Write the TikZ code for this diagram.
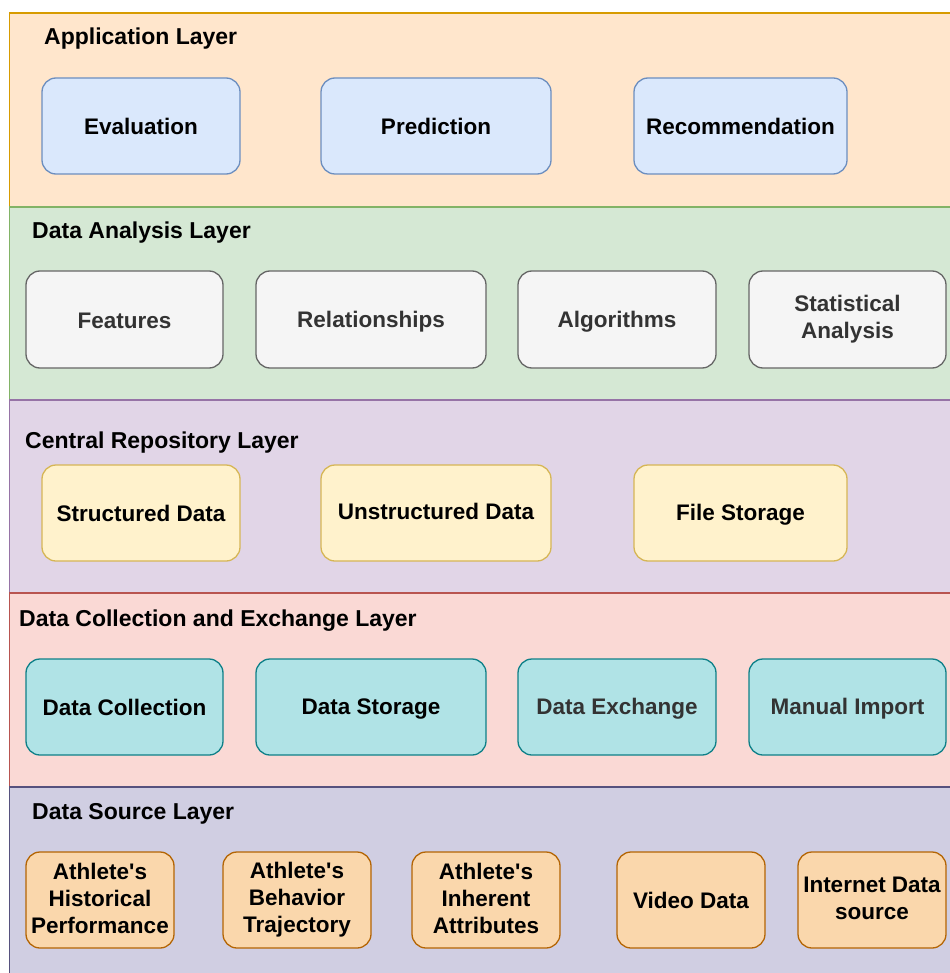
\documentclass[tikz,border=0pt]{standalone}
\usepackage{fontspec}
\setmainfont{Liberation Sans}
\usetikzlibrary{positioning}

\definecolor{appfill}{HTML}{FFE6CC}
\definecolor{appline}{HTML}{D79B00}
\definecolor{anafill}{HTML}{D5E8D4}
\definecolor{analine}{HTML}{82B366}
\definecolor{repfill}{HTML}{E1D5E7}
\definecolor{repline}{HTML}{9673A6}
\definecolor{colfill}{HTML}{FAD9D5}
\definecolor{colline}{HTML}{B85450}
\definecolor{srcfill}{HTML}{D0CEE2}
\definecolor{srcline}{HTML}{56517E}
\definecolor{bluefill}{HTML}{DAE8FC}
\definecolor{blueline}{HTML}{6C8EBF}
\definecolor{grayfill}{HTML}{F5F5F5}
\definecolor{grayline}{HTML}{666666}
\definecolor{graytext}{HTML}{333333}
\definecolor{yellowfill}{HTML}{FFF2CC}
\definecolor{yellowline}{HTML}{D6B656}
\definecolor{tealfill}{HTML}{B0E3E6}
\definecolor{tealline}{HTML}{0E8088}
\definecolor{orangefill}{HTML}{FAD7AC}
\definecolor{orangeline}{HTML}{B46504}

% keeps every line of a box on the same baseline grid
\newcommand\itemstrut{\rule[-3.5pt]{0pt}{24pt}}

\begin{document}
\begin{tikzpicture}[x=1pt,y=-1pt,
    layerbox/.style={rectangle,draw,line width=1.2pt,outer sep=0pt,inner sep=0pt,
                     minimum width=952pt,anchor=north west},
    layer title/.style={anchor=base west,inner sep=0pt,
                        font=\bfseries\fontsize{23}{28}\selectfont},
    item/.style={rectangle,rounded corners=14pt,draw,line width=1.3pt,outer sep=0pt,
                 inner sep=0pt,minimum height=96pt,align=center,
                 font=\bfseries\fontsize{22.5}{27}\selectfont,
                 execute at begin node=\itemstrut,execute at end node=\itemstrut},
    app item/.style={item,fill=bluefill,draw=blueline},
    ana item/.style={item,fill=grayfill,draw=grayline,text=graytext,minimum height=97pt},
    rep item/.style={item,fill=yellowfill,draw=yellowline},
    col item/.style={item,fill=tealfill,draw=tealline},
    src item/.style={item,fill=orangefill,draw=orangeline,minimum width=148pt}]

  \useasboundingbox (0,0) rectangle (949,973);
  \fill[white] (0,0) rectangle (949,973);

  % layers
  \node[layerbox,fill=appfill,draw=appline,minimum height=194pt] (app) at (9.5,13) {};
  \node[layerbox,fill=anafill,draw=analine,minimum height=193pt,below=0pt of app] (ana) {};
  \node[layerbox,fill=repfill,draw=repline,minimum height=193pt,below=0pt of ana] (rep) {};
  \node[layerbox,fill=colfill,draw=colline,minimum height=194pt,below=0pt of rep] (col) {};
  \node[layerbox,fill=srcfill,draw=srcline,minimum height=200pt,below=0pt of col] (src) {};

  \node[layer title] (app title) at ([xshift=34.5pt,yshift=-32pt]app.north west) {Application Layer};
  \node[layer title] (ana title) at ([xshift=22.5pt,yshift=-32pt]ana.north west) {Data Analysis Layer};
  \node[layer title] (rep title) at ([xshift=15.5pt,yshift=-48pt]rep.north west) {Central Repository Layer};
  \node[layer title] (col title) at ([xshift=9.5pt,yshift=-33pt]col.north west) {Data Collection and Exchange Layer};
  \node[layer title] (src title) at ([xshift=22.5pt,yshift=-32pt]src.north west) {Data Source Layer};

  % application layer
  \node[app item,minimum width=198pt] (eval) at (141,126) {Evaluation};
  \node[app item,minimum width=230pt,right=81pt of eval] (pred) {Prediction};
  \node[app item,minimum width=213pt,right=83pt of pred] (rec) {Recommendation};

  % data analysis layer
  \node[ana item,minimum width=197pt] (feat) at (124.5,319.5) {Features};
  \node[ana item,minimum width=230pt,right=33pt of feat] (rel) {Relationships};
  \node[ana item,minimum width=198pt,right=32pt of rel] (alg) {Algorithms};
  \node[ana item,minimum width=197pt,right=33pt of alg] (stat) {Statistical\\Analysis};

  % central repository layer
  \node[rep item,minimum width=198pt] (struct) at (141,513) {Structured Data};
  \node[rep item,minimum width=230pt,right=81pt of struct] (unstruct) {\raisebox{2pt}{Unstructured Data}};
  \node[rep item,minimum width=213pt,right=83pt of unstruct] (file) {File Storage};

  % data collection and exchange layer
  \node[col item,minimum width=197pt] (collect) at (124.5,707) {Data Collection};
  \node[col item,minimum width=230pt,right=33pt of collect] (store) {Data Storage};
  \node[col item,minimum width=198pt,right=32pt of store,text=graytext] (exch) {Data Exchange};
  \node[col item,minimum width=197pt,right=33pt of exch,text=graytext] (manual) {Manual Import};

  % data source layer
  \node[src item] (hist) at (100,900) {Athlete\textquotesingle s\\Historical\\Performance};
  \node[src item,right=49pt of hist] (behav) {Athlete\textquotesingle s\\Behavior\\Trajectory};
  \node[src item,right=41pt of behav] (inher) {Athlete\textquotesingle s\\Inherent\\Attributes};
  \node[src item,right=57pt of inher] (video) {Video Data};
  \node[src item,right=33pt of video] (net) {Internet Data\\source};
\end{tikzpicture}
\end{document}
